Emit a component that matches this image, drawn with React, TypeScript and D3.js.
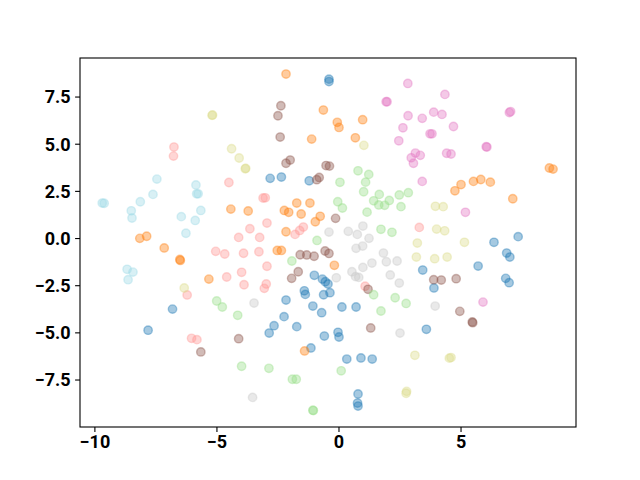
import React from "react";
import * as d3 from "d3";

const blueX = [-0.41,-0.41,-2.82,-2.36,-1.22,-6.82,-7.82,-1.01,-0.68,-0.56,-0.45,-1.42,-1.38,-0.63,-0.37,-2.17,-1.07,0.12,0.70,-0.71,-2.25,-2.66,-2.86,-1.73,-0.60,-1.15,-0.04,0.00,0.32,0.90,1.36,0.78,0.76,0.78,3.43,3.89,3.58,7.34,6.35,6.87,7.00,5.70,6.83,6.97];
const blueY = [8.45,8.32,3.19,3.26,3.06,-3.74,-4.86,-1.95,-2.15,-2.29,-2.41,-2.77,-2.96,-2.98,-2.87,-3.26,-3.58,-3.63,-3.63,-3.93,-4.14,-4.62,-5.01,-4.67,-5.17,-5.80,-4.97,-5.22,-6.39,-6.33,-6.39,-8.24,-8.72,-8.88,-1.67,-2.62,-4.81,0.10,-0.20,-0.77,-0.98,-1.46,-2.11,-2.34];

const orangeX = [-2.17,-0.64,-1.12,-0.07,0.00,0.97,0.67,8.62,8.77,5.00,5.51,5.81,6.20,4.75,7.12,-8.16,-7.88,-7.16,-6.52,-6.50,-5.33,-4.43,-3.72,-2.24,-2.06,-1.73,-1.19,-1.55,-0.77,-0.97,-2.17,-2.53,-2.36,-0.19,-1.41];
const orangeY = [8.72,6.81,5.27,6.16,5.89,6.30,5.34,3.74,3.68,2.86,3.03,3.13,2.99,2.53,2.11,0.01,0.12,-0.50,-1.11,-1.16,-2.15,1.56,1.46,1.49,1.39,1.88,1.88,1.30,1.18,0.89,0.36,-0.63,-0.63,-1.42,-5.96];

const lightRedX = [-6.76,-6.78,-4.51,-3.11,-3.02,-2.95,-3.65,-4.11,-3.25,-1.80,-1.61,-1.46,-5.05,-4.68,-3.91,-3.28,-2.95,-3.99,-4.60,-3.89,-2.98,-3.06,-6.22,-6.04,-5.82,3.29,1.07];
const lightRedY = [4.85,4.37,2.97,2.15,2.16,0.82,0.52,0.06,0.06,0.22,0.43,0.61,-0.68,-0.82,-0.78,-0.70,-1.47,-1.79,-2.04,-2.45,-2.41,-2.64,-2.99,-5.29,-5.36,0.59,-2.53];

const brownX = [-2.38,-2.50,-2.41,-2.00,-2.17,-0.53,-0.39,-0.81,-0.91,-1.59,-1.32,-1.02,-0.57,-0.41,-1.67,-1.94,-0.14,1.19,1.30,3.88,4.19,4.80,4.95,5.46,5.48,-4.11,-5.66];
const brownY = [7.04,6.51,5.38,4.16,3.99,3.87,3.84,3.24,3.12,-0.86,-0.87,-0.94,-0.66,-0.79,-1.76,-2.11,1.07,-2.69,-4.74,-2.18,-2.20,-2.13,-3.86,-4.42,-4.46,-5.31,-6.01];

const pinkX = [2.82,1.93,1.97,4.34,2.83,3.41,3.88,4.22,4.69,2.62,3.73,3.81,2.45,3.13,2.96,3.33,3.05,4.41,4.59,3.41,6.98,7.03,6.03,6.06,5.18,5.90];
const pinkY = [8.22,7.25,7.25,7.64,6.51,6.37,6.70,6.58,5.94,5.87,5.55,5.55,5.18,4.53,4.28,4.41,3.99,4.52,4.48,3.03,6.68,6.73,4.87,4.85,1.39,-3.37];

const grayX = [-0.41,-3.48,-3.54,0.98,0.38,0.75,1.23,0.70,0.97,1.82,1.35,1.94,2.38,0.98,0.53,0.68,0.81,2.10,-0.11,2.47,3.94,2.50];
const grayY = [0.34,-3.42,-8.42,0.66,0.38,0.22,0.01,-0.52,-0.40,-0.77,-1.30,-1.23,-1.19,-1.53,-1.76,-2.02,-2.06,-1.93,-2.08,-2.36,-3.58,-5.01];

const greenX = [0.78,1.22,0.04,1.09,1.01,1.65,1.42,1.63,1.87,2.06,2.47,2.84,2.54,-0.05,0.14,1.15,1.72,2.17,-0.90,-1.93,1.42,2.30,2.75,-5.01,-4.78,-4.15,1.72,-3.99,-2.87,-1.91,-1.75,-1.07,-1.05,0.09];
const greenY = [3.59,3.40,2.98,2.99,2.48,2.34,2.00,1.78,1.76,2.02,2.31,2.43,1.69,1.95,1.62,1.40,0.49,0.33,-0.10,-1.19,-2.98,-3.14,-3.44,-3.31,-3.63,-4.07,-3.84,-6.77,-6.88,-7.46,-7.46,-9.10,-9.12,-7.01];

const oliveX = [-5.20,-5.18,-4.40,-4.09,-3.84,-3.82,1.02,-6.34,3.95,4.27,4.00,4.33,3.21,3.17,3.92,4.43,5.14,3.11,4.59,4.52,2.77,2.75];
const oliveY = [6.53,6.55,4.76,4.27,3.70,3.72,4.94,-2.62,1.71,1.69,0.50,0.41,-0.24,-0.98,-1.07,-0.98,-0.20,-6.19,-6.31,-6.34,-8.10,-8.20];

const cyanX = [-9.70,-9.62,-8.51,-8.48,-8.14,-7.62,-7.46,-5.86,-5.83,-5.77,-6.46,-5.66,-5.89,-6.27,-8.68,-8.44,-8.64];
const cyanY = [1.88,1.87,1.47,1.09,1.95,2.34,3.15,2.84,2.37,2.37,1.16,1.49,0.96,0.28,-1.63,-1.78,-2.18];

const xTicks = [-10, -5, 0, 5];
const yTicks = [-7.5, -5.0, -2.5, 0.0, 2.5, 5.0, 7.5];

const series = [
  { color: "#1f77b4", xs: blueX, ys: blueY },
  { color: "#ff7f0e", xs: orangeX, ys: orangeY },
  { color: "#ff9896", xs: lightRedX, ys: lightRedY },
  { color: "#8c564b", xs: brownX, ys: brownY },
  { color: "#e377c2", xs: pinkX, ys: pinkY },
  { color: "#c7c7c7", xs: grayX, ys: grayY },
  { color: "#98df8a", xs: greenX, ys: greenY },
  { color: "#dbdb8d", xs: oliveX, ys: oliveY },
  { color: "#9edae5", xs: cyanX, ys: cyanY },
];

const W = 640, H = 480;
const L = 80, R = 576, T = 58, B = 427;

export default function App() {
  const x = d3.scaleLinear().domain([-10.61, 9.71]).range([L, R]);
  const y = d3.scaleLinear().domain([-9.99, 9.57]).range([B, T]);
  const fmtY = (v: number) => (v < 0 ? "\u2212" : "") + Math.abs(v).toFixed(1);
  const fmtX = (v: number) => (v < 0 ? "\u2212" : "") + Math.abs(v).toString();
  const font = "Roboto, 'DejaVu Sans', sans-serif";
  return (
    <svg width={W} height={H} style={{ position: "absolute", left: 0, top: 0, background: "#fff" }}>
      <rect x={0} y={0} width={W} height={H} fill="#fff" />
      <g>
        {series.map((s, si) =>
          s.xs.map((xv, i) => (
            <circle
              key={si + "-" + i}
              cx={x(xv)}
              cy={y(s.ys[i])}
              r={4.2}
              fill={s.color}
              fillOpacity={0.4}
              stroke={s.color}
              strokeOpacity={0.4}
              strokeWidth={1.4}
            />
          ))
        )}
      </g>
      <rect x={L} y={T} width={R - L} height={B - T} fill="none" stroke="#000" strokeWidth={1.1} />
      {xTicks.map((t) => (
        <g key={"x" + t} transform={`translate(${x(t)},${B})`}>
          <line y1={0} y2={4.9} stroke="#000" strokeWidth={1.1} />
          <text y={8.5} dy="0.71em" textAnchor="middle" fontFamily={font} fontWeight="bold" fontSize={18}>
            {fmtX(t)}
          </text>
        </g>
      ))}
      {yTicks.map((t) => (
        <g key={"y" + t} transform={`translate(${L},${y(t)})`}>
          <line x1={0} x2={-4.9} stroke="#000" strokeWidth={1.1} />
          <text x={-9.5} dy="0.35em" textAnchor="end" fontFamily={font} fontWeight="bold" fontSize={18}>
            {fmtY(t)}
          </text>
        </g>
      ))}
    </svg>
  );
}
